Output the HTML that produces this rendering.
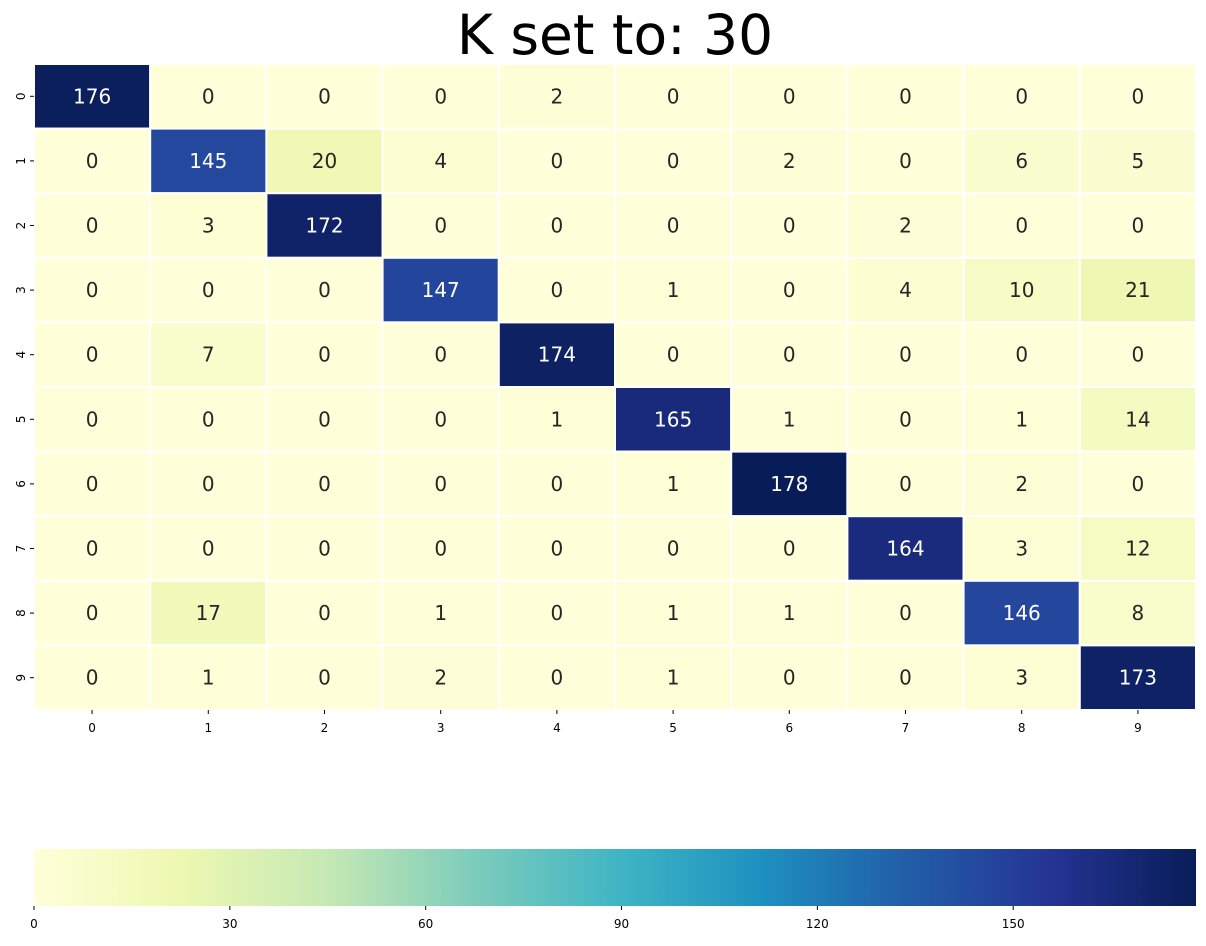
<!DOCTYPE html>
<html><head><meta charset="utf-8"><style>
body{margin:0;background:#fff;font-family:"Liberation Sans","DejaVu Sans",sans-serif;}
svg text{font-family:"DejaVu Sans","Liberation Sans",sans-serif;}
</style></head><body>
<svg id="chart" width="1206" height="941" xmlns="http://www.w3.org/2000/svg">
<defs><linearGradient id="cg" x1="0" x2="1" y1="0" y2="0">
<stop offset="0" stop-color="#ffffd9"/><stop offset="0.125" stop-color="#edf8b1"/><stop offset="0.25" stop-color="#c7e9b4"/><stop offset="0.375" stop-color="#7fcdbb"/><stop offset="0.5" stop-color="#41b6c4"/><stop offset="0.625" stop-color="#1d91c0"/><stop offset="0.75" stop-color="#225ea8"/><stop offset="0.875" stop-color="#253494"/><stop offset="1" stop-color="#081d58"/>
</linearGradient></defs>
<text x="615" y="54" font-size="55" text-anchor="middle" fill="#000">K set to: 30</text>
<g id="cells"></g>
<g id="ticks"></g>
<rect x="34" y="849" width="1162" height="57" fill="url(#cg)"/>
<g id="cbticks"></g>
</svg>
<script>
const classLabels = ["0","1","2","3","4","5","6","7","8","9"];
const matrix = [
[176,0,0,0,2,0,0,0,0,0],
[0,145,20,4,0,0,2,0,6,5],
[0,3,172,0,0,0,0,2,0,0],
[0,0,0,147,0,1,0,4,10,21],
[0,7,0,0,174,0,0,0,0,0],
[0,0,0,0,1,165,1,0,1,14],
[0,0,0,0,0,1,178,0,2,0],
[0,0,0,0,0,0,0,164,3,12],
[0,17,0,1,0,1,1,0,146,8],
[0,1,0,2,0,1,0,0,3,173]
];
const colorbarTicks = [0,30,60,90,120,150];
const vmin = 0, vmax = 178;
const stops = ["#ffffd9","#edf8b1","#c7e9b4","#7fcdbb","#41b6c4","#1d91c0","#225ea8","#253494","#081d58"];
function hex(h){return [1,3,5].map(i=>parseInt(h.substr(i,2),16));}
function cmap(v){let t=Math.max(0,Math.min(1,(v-vmin)/(vmax-vmin)))*(stops.length-1);let i=Math.min(Math.floor(t),stops.length-2),f=t-i;const a=hex(stops[i]),b=hex(stops[i+1]);return `rgb(${a.map((x,k)=>Math.round(x+(b[k]-x)*f)).join(',')})`;}
const X0=34,X1=1196,Y0=64,Y1=710;
const cw=(X1-X0)/classLabels.length, ch=(Y1-Y0)/classLabels.length;
const xs=i=>X0+i*cw, ys=i=>Y0+i*ch;
const NS="http://www.w3.org/2000/svg";
const cells=document.getElementById('cells'), ticks=document.getElementById('ticks'), cb=document.getElementById('cbticks');
function mk(tag,attrs,txt){const e=document.createElementNS(NS,tag);for(const k in attrs)e.setAttribute(k,attrs[k]);if(txt!==undefined)e.textContent=txt;return e;}
matrix.forEach((row,r)=>row.forEach((v,c)=>{
  const rect=mk('rect',{x:xs(c),y:ys(r),width:cw,height:ch,fill:cmap(v),stroke:'#fff','stroke-width':2});
  
  
  cells.appendChild(rect);
  const t=mk('text',{x:xs(c)+cw/2,y:ys(r)+ch/2+7,'font-size':20,'text-anchor':'middle',fill:(v-vmin)/(vmax-vmin)>0.5?'#fff':'#262626'},v);
  
  
  cells.appendChild(t);
}));
classLabels.forEach((l,i)=>{
  const x=xs(i)+cw/2;
  ticks.appendChild(mk('line',{x1:x,x2:x,y1:Y1,y2:Y1+4,stroke:'#000'}));
  const t=mk('text',{x:x,y:Y1+22,'font-size':12,'text-anchor':'middle'},l);
  
  
  ticks.appendChild(t);
  const y=ys(i)+ch/2;
  ticks.appendChild(mk('line',{x1:X0-4,x2:X0,y1:y,y2:y,stroke:'#000'}));
  const u=mk('text',{x:0,y:0,'font-size':12,'text-anchor':'middle',transform:`translate(${X0-9},${y}) rotate(-90)`},l);
  
  
  ticks.appendChild(u);
});
colorbarTicks.forEach(v=>{
  const x=X0+(v-vmin)/(vmax-vmin)*(X1-X0);
  cb.appendChild(mk('line',{x1:x,x2:x,y1:906,y2:910,stroke:'#000'}));
  const t=mk('text',{x:x,y:928,'font-size':12,'text-anchor':'middle'},v);
  
  
  cb.appendChild(t);
});
</script>
</body></html>
